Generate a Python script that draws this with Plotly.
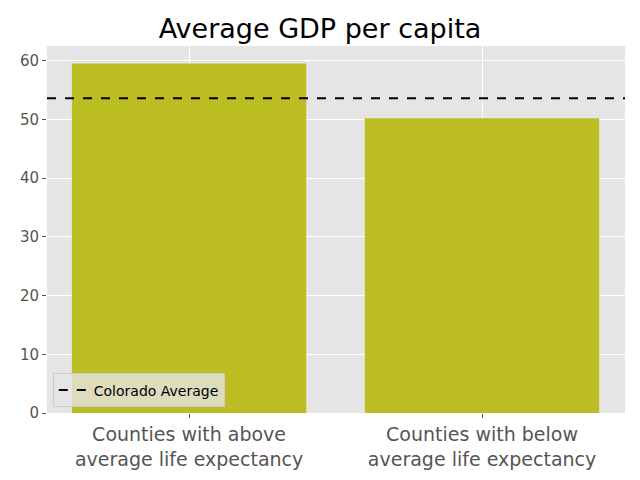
import plotly.graph_objects as go

categories = ["Counties with above<br>average life expectancy", "Counties with below<br>average life expectancy"]
gdp_values = [59.5, 50.2]
colorado_average = 53.6
title = "Average GDP per capita"
legend_label = "Colorado Average"

fig = go.Figure()
fig.add_trace(go.Bar(x=[0, 1], y=gdp_values, marker=dict(color="#bcbd22", line=dict(width=0)),
                     width=0.8, showlegend=False))
fig.add_trace(go.Scatter(x=[None], y=[None], mode="lines", name=legend_label,
                         line=dict(color="black", dash="dash", width=2)))
fig.add_shape(type="line", xref="paper", x0=0, x1=1, yref="y", y0=colorado_average, y1=colorado_average,
              line=dict(color="black", dash="dash", width=2), layer="above")

fig.update_layout(
    width=640, height=480,
    paper_bgcolor="white", plot_bgcolor="#e5e5e5",
    margin=dict(l=39, r=23, t=38, b=75, autoexpand=False),
    font=dict(family="DejaVu Sans", color="#555555"),
    title=dict(text=title, x=0.5 - 8 / 640, xanchor="center", y=0.938, yanchor="bottom",
               font=dict(size=27, color="black", family="DejaVu Sans")),
    xaxis=dict(range=[-0.485, 1.488], tickmode="array", tickvals=[0, 1], ticktext=categories,
               tickfont=dict(size=19, color="#555555"), showgrid=True, gridcolor="white", gridwidth=1,
               ticks="outside", ticklen=4, tickcolor="#555555", zeroline=False, automargin=False),
    yaxis=dict(range=[0, 62.5], tickvals=[0, 10, 20, 30, 40, 50, 60],
               tickfont=dict(size=15, color="#555555"), showgrid=True, gridcolor="white", gridwidth=1,
               ticks="outside", ticklen=4, tickcolor="#555555", zeroline=False, automargin=False),
    legend=dict(x=0.01, y=0.015, xanchor="left", yanchor="bottom",
                bgcolor="rgba(229,229,229,0.8)", bordercolor="#cccccc", borderwidth=1,
                font=dict(size=14, color="black"), tracegroupgap=0, itemwidth=30),
    bargap=0.2,
)
fig.write_html("out.html")
